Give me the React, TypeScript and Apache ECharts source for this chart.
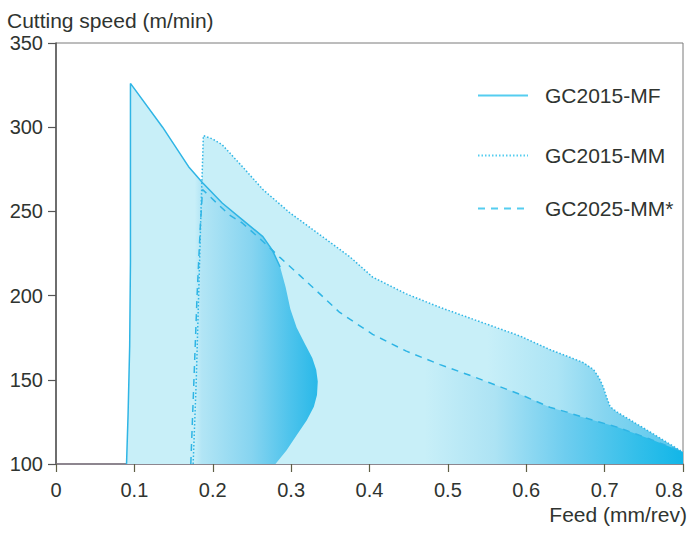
import React, { useEffect, useRef } from 'react';
import * as echarts from 'echarts';

// Axis ranges / ticks
const feedMin = 0;
const feedMax = 0.8;
const feedStep = 0.1;
const speedMin = 100;
const speedMax = 350;
const speedStep = 50;

const seriesNames = ['GC2015-MF', 'GC2015-MM', 'GC2025-MM*'];

// GC2015-MF region outline [feed, speed]
const mfOutline: [number, number][] = [
  [0.090, 100], [0.092, 130], [0.094, 170], [0.095, 220], [0.095, 270], [0.095, 326],
  [0.136, 300], [0.170, 276], [0.187, 267], [0.212, 255], [0.238, 245], [0.264, 235],
  [0.276, 227], [0.286, 217], [0.293, 205], [0.299, 192], [0.307, 181], [0.318, 171],
  [0.327, 163], [0.332, 156], [0.334, 149], [0.333, 141], [0.329, 134], [0.320, 126],
  [0.307, 117], [0.294, 108], [0.280, 100],
];
const mfLineCount = 14;

// GC2015-MM region outline
const mmOutline: [number, number][] = [
  [0.175, 100], [0.179, 150], [0.182, 200], [0.185, 250], [0.188, 295], [0.200, 293],
  [0.212, 289.6], [0.238, 276.5], [0.264, 263], [0.298, 249.3], [0.340, 235], [0.375, 223],
  [0.404, 211], [0.447, 201], [0.490, 193], [0.532, 186], [0.592, 176], [0.630, 168],
  [0.672, 160.4], [0.686, 156], [0.693, 151], [0.698, 146], [0.703, 139], [0.707, 134],
  [0.716, 130.8], [0.758, 119], [0.800, 107], [0.800, 100],
];

// GC2025-MM* region outline
const mmsOutline: [number, number][] = [
  [0.172, 100], [0.176, 150], [0.180, 200], [0.184, 240], [0.187, 263], [0.205, 255],
  [0.221, 248], [0.238, 243], [0.262, 233], [0.285, 223], [0.311, 212], [0.339, 200],
  [0.362, 190], [0.404, 177], [0.447, 167], [0.490, 159], [0.532, 152], [0.592, 141.4],
  [0.630, 133.7], [0.652, 130.8], [0.672, 127.8], [0.716, 121.9], [0.758, 114.8],
  [0.800, 107.1], [0.800, 100],
];

const FONT = "'Liberation Sans', Arial, Helvetica, sans-serif";
const TEXT = '#2f3430';
const LINE = '#2fb5e5';
const LEGEND_LINE = '#55cdf0';

type Stop = [number, string];

function polygonRenderer(points: [number, number][], stops: Stop[]) {
  return (_params: any, api: any) => {
    const pts = points.map((p) => api.coord(p));
    const s0 = stops[0][0];
    const sN = stops[stops.length - 1][0];
    const x0 = api.coord([s0, speedMin])[0];
    const x1 = api.coord([sN, speedMin])[0];
    return {
      type: 'polygon',
      shape: { points: pts },
      style: {
        fill: {
          type: 'linear',
          x: x0,
          y: 0,
          x2: x1,
          y2: 0,
          global: true,
          colorStops: stops.map(([v, c]) => ({ offset: (v - s0) / (sN - s0), color: c })),
        },
        stroke: 'none',
      },
    };
  };
}

export default function App() {
  const ref = useRef<HTMLDivElement>(null);

  useEffect(() => {
    document.body.style.margin = '0';
    if (!ref.current) return;
    const chart = echarts.init(ref.current, undefined, { renderer: 'svg' });

    const legendBase = (name: string, top: number) => ({
      data: [name],
      left: 477,
      top,
      padding: 0,
      itemWidth: 50,
      itemHeight: 14,
      selectedMode: false,
      lineStyle: { color: LEGEND_LINE },
      itemStyle: { opacity: 0 },
      formatter: '{a|{name}}',
      textStyle: {
        fontFamily: FONT,
        fontSize: 21,
        color: TEXT,
        rich: { a: { fontFamily: FONT, fontSize: 21, color: TEXT, padding: [0, 0, 0, 12] } },
      },
    });

    chart.setOption({
      animation: false,
      grid: {
        left: 56,
        right: 5,
        top: 43,
        bottom: 72,
        containLabel: false,
        outerBoundsMode: 'none',
        show: true,
        borderColor: '#7a7a7a',
        borderWidth: 1,
      },
      legend: [
        legendBase(seriesNames[0], 85),
        legendBase(seriesNames[1], 145),
        legendBase(seriesNames[2], 198),
      ],
      xAxis: {
        type: 'value',
        min: feedMin,
        max: feedMax,
        interval: feedStep,
        splitLine: { show: false },
        axisLine: { lineStyle: { color: '#7d7480', width: 1.5 } },
        axisTick: { show: true, length: 8, lineStyle: { color: '#5f5f45', width: 1.2 } },
        axisLabel: {
          margin: 16,
          fontSize: 20,
          fontFamily: FONT,
          color: TEXT,
          alignMaxLabel: 'right',
          formatter: (v: number) => (v === 0 ? '0' : v.toFixed(1)),
        },
      },
      yAxis: {
        type: 'value',
        min: speedMin,
        max: speedMax,
        interval: speedStep,
        splitLine: { show: false },
        axisLine: { show: true, lineStyle: { color: '#555555', width: 1.5 } },
        axisTick: { show: true, length: 8, lineStyle: { color: '#555555', width: 1.2 } },
        axisLabel: { margin: 13, fontSize: 20, fontFamily: FONT, color: TEXT },
      },
      graphic: [
        {
          type: 'text',
          x: 7,
          y: 20,
          style: {
            text: 'Cutting speed (m/min)',
            font: `21px ${FONT}`,
            fill: TEXT,
            textAlign: 'left',
            textVerticalAlign: 'middle',
          },
        },
        {
          type: 'text',
          x: 687,
          y: 514,
          style: {
            text: 'Feed (mm/rev)',
            font: `21px ${FONT}`,
            fill: TEXT,
            textAlign: 'right',
            textVerticalAlign: 'middle',
          },
        },
      ],
      series: [
        {
          type: 'custom',
          silent: true,
          z: 1,
          data: [mmOutline[0]],
          renderItem: polygonRenderer(mmOutline, [
            [0.17, '#c8eff8'],
            [0.55, '#c8eff8'],
            [0.64, '#ace4f5'],
            [0.70, '#86d5f0'],
            [0.80, '#55c7ed'],
          ]),
        },
        {
          type: 'custom',
          silent: true,
          z: 2,
          data: [mmsOutline[0]],
          renderItem: polygonRenderer(mmsOutline, [
            [0.17, '#c8eff8'],
            [0.47, '#c8eff8'],
            [0.56, '#ade3f4'],
            [0.65, '#6ecdef'],
            [0.74, '#34bfea'],
            [0.80, '#12b6e8'],
          ]),
        },
        {
          type: 'custom',
          silent: true,
          z: 3,
          data: [mfOutline[0]],
          renderItem: polygonRenderer(mfOutline, [
            [0.08, '#c8eff8'],
            [0.177, '#c8eff8'],
            [0.186, '#b2e5f5'],
            [0.25, '#86d4f0'],
            [0.30, '#4cc3ec'],
            [0.335, '#28b8e8'],
          ]),
        },
        {
          name: seriesNames[0],
          type: 'line',
          z: 5,
          symbol: 'none',
          showSymbol: false,
          color: LINE,
          lineStyle: { color: LINE, width: 1.5, type: 'solid' },
          data: mfOutline.slice(0, mfLineCount),
        },
        {
          name: seriesNames[1],
          type: 'line',
          z: 5,
          symbol: 'none',
          showSymbol: false,
          color: LINE,
          lineStyle: { color: LINE, width: 1.5, type: [1.5, 2] },
          data: mmOutline.slice(0, -1),
        },
        {
          name: seriesNames[2],
          type: 'line',
          z: 5,
          symbol: 'none',
          showSymbol: false,
          color: LINE,
          lineStyle: { color: LINE, width: 1.5, type: [7, 6] },
          data: mmsOutline.slice(0, -1),
        },
      ],
    });

    return () => chart.dispose();
  }, []);

  return (
    <div
      ref={ref}
      style={{ position: 'fixed', left: 0, top: 0, width: 688, height: 536, background: '#ffffff' }}
    />
  );
}
